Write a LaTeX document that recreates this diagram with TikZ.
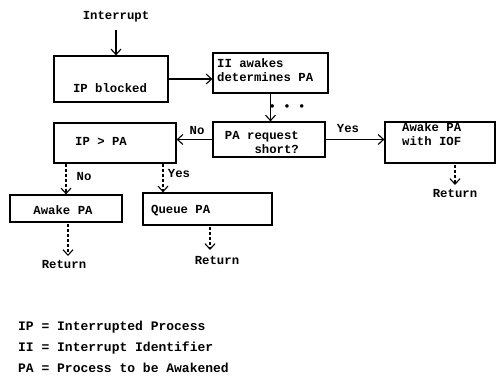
\documentclass[tikz,border=0pt]{standalone}
\usepackage{fontspec}
\setmonofont{Liberation Mono}
\usetikzlibrary{arrows.meta,calc}
\begin{document}
\begin{tikzpicture}[x=1pt,y=-1pt,
  every node/.style={font=\ttfamily\bfseries\fontsize{12.3}{14}\selectfont, inner sep=0pt},
  box/.style={draw, line width=1.2pt, rectangle},
  arr/.style={line width=1.1pt, -{Straight Barb[length=5.5pt,width=10pt,line width=1.1pt]}},
  darr/.style={arr, densely dashed},
  txt/.style={},
  legend/.style={anchor=west, font=\ttfamily\bfseries\fontsize{13}{15}\selectfont}]
\useasboundingbox (0,0) rectangle (498,377);
% boxes
\node[box, minimum width=114pt, minimum height=46pt] (ipb) at (111,79) {};
\node[txt] (ipbt) at (110,88) {IP blocked};
\node[box, minimum width=115pt, minimum height=40pt] (ii) at (270.5,73) {};
\node[txt, anchor=west, align=left] (iit) at (217,70) {II awakes\\determines PA};
\node[box, minimum width=112pt, minimum height=35pt] (par) at (269,139.5) {};
\node[txt, anchor=east, align=right] (part) at (299,142) {PA request\\short?};
\node[box, minimum width=110pt, minimum height=41pt] (awk) at (440,142.5) {};
\node[txt, anchor=west, align=left] (awkt) at (402,134) {Awake PA\\with IOF};
\node[box, minimum width=122pt, minimum height=40pt] (ipa) at (115,143) {};
\node[txt] (ipat) at (101,141) {IP > PA};
\node[box, minimum width=112pt, minimum height=27pt] (apa) at (66,208.5) {};
\node[txt] (apat) at (63,210) {Awake PA};
\node[box, minimum width=129pt, minimum height=32pt] (qpa) at (207.5,209) {};
\node[txt, anchor=west] (qpat) at (151,211) {Queue PA};
% labels
\node[txt] (intr) at (116,17) {Interrupt};
\node[txt] (ret1) at (455,193) {Return};
\node[txt] (ret2) at (64,264) {Return};
\node[txt] (ret3) at (217,260) {Return};
\node[txt] (no1) at (197,131) {No};
\node[txt] (yes1) at (348,129) {Yes};
\node[txt] (no2) at (84,177) {No};
\node[txt] (yes2) at (179,174) {Yes};
\node[txt] (dots) at (287,108) {• • •};
% connectors
\draw[arr] (intr.south |- 0,30) -- (intr.south |- ipb.north);
\draw[arr] (ipb.east) -- (ipb.east -| ii.west);
\draw[arr] (ii.south) -- (ii.south |- par.north);
\draw[arr] (par.east) -- (par.east -| awk.west);
\draw[arr] (par.west) -- (par.west -| ipa.east);
\draw[darr] (apa.north |- ipa.south) -- (apa.north);
\draw[darr] ([xshift=48pt]ipa.south) -- ([xshift=48pt]ipa.south |- qpa.north);
\coordinate (r1a) at (455,165);
\coordinate (r1b) at (455,185);
\draw[darr] (r1a) -- (r1b);
\coordinate (r2a) at (68,224);
\coordinate (r2b) at (68,256);
\draw[darr] (r2a) -- (r2b);
\coordinate (r3a) at (210,227);
\coordinate (r3b) at (210,250);
\draw[darr] (r3a) -- (r3b);
% legend
\node[legend] (leg1) at (18,327) {IP = Interrupted Process};
\node[legend] (leg2) at (18,348) {II = Interrupt Identifier};
\node[legend] (leg3) at (18,368) {PA = Process to be Awakened};
\end{tikzpicture}
\end{document}
